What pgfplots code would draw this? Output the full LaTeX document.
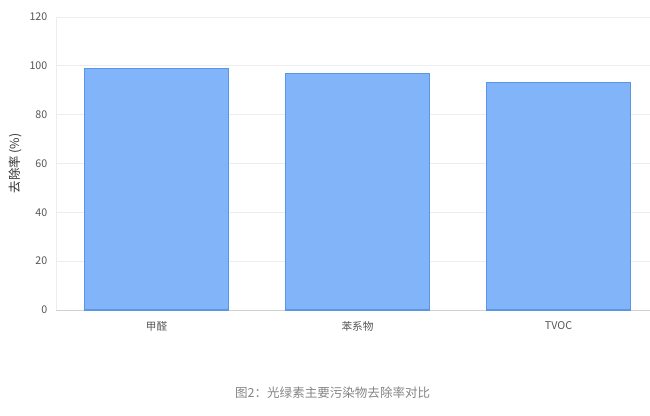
\documentclass[border=0pt]{standalone}
\usepackage{pgfplots}
\pgfplotsset{compat=1.18}
\usepackage{fontspec}
\setmainfont{Noto Sans CJK SC}
\definecolor{barfill}{HTML}{82B4FA}
\definecolor{baredge}{HTML}{5A96E6}
\definecolor{gridgray}{HTML}{EDEDED}
\definecolor{axisgray}{HTML}{D0D0D0}
\definecolor{labelgray}{HTML}{555555}
\definecolor{captiongray}{HTML}{858585}
\begin{document}
\begin{tikzpicture}
% 1px = 0.75pt, picture 650x416 px
\path[use as bounding box] (0,0) rectangle (487.5pt,312pt);
\begin{axis}[
    at={(42pt,79.5pt)}, anchor=south west,
    scale only axis,
    width=445.5pt, height=219.75pt,
    xmin=-0.5, xmax=2.455,
    ymin=0, ymax=120,
    ytick={0,20,...,120},
    xtick={0,1,2},
    xticklabels={甲醛,苯系物,TVOC},
    axis x line*=bottom, axis y line*=left,
    x axis line style={draw=axisgray, line width=0.6pt, -},
    y axis line style={draw=gridgray, line width=0.6pt, -},
    major tick length=0pt,
    ymajorgrids=true,
    grid style={draw=gridgray, line width=0.6pt},
    tick label style={font=\fontsize{8pt}{9pt}\selectfont, text=labelgray},
    /pgf/number format/assume math mode=true,
    yticklabel style={xshift=-3pt},
    xticklabel style={yshift=-5pt},
    clip=false,
]
\addplot[ybar, bar width=0.716, fill=barfill, draw=baredge, line width=0.8pt]
    coordinates {(0,99) (1,97) (2,93.2)};
\end{axis}
\node[rotate=90, font=\fontsize{9.3pt}{11pt}\selectfont, text=black!80] at (11.25pt,189.4pt) {去除率 (\%)};
\node[font=\fontsize{9.4pt}{11pt}\selectfont, text=captiongray] at (249.5pt,17.5pt) {图2：光绿素主要污染物去除率对比};
\end{tikzpicture}
\end{document}
